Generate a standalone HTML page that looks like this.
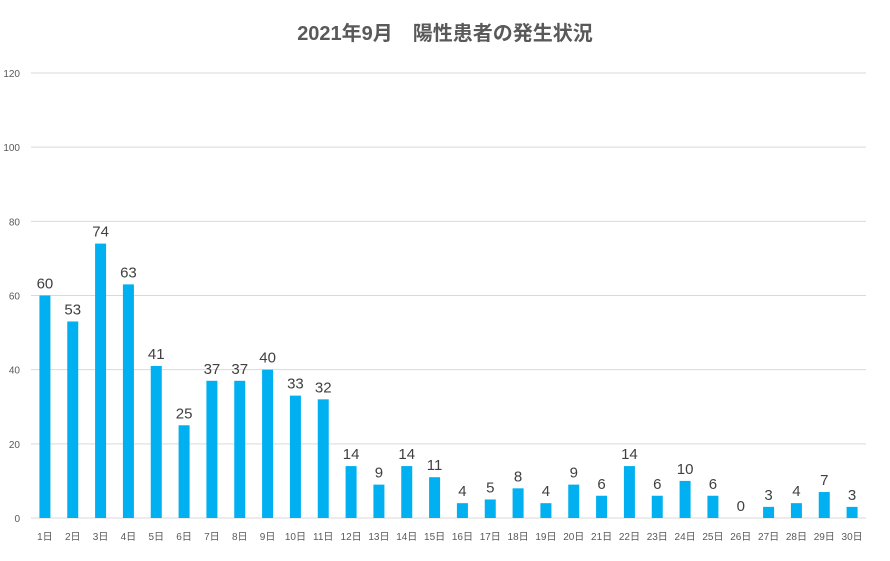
<!DOCTYPE html>
<html><head><meta charset="utf-8"><style>
body{margin:0;background:#fff;}
svg{display:block;font-family:"Liberation Sans","Noto Sans CJK JP",sans-serif;}
</style></head><body>
<svg id="chart" width="890" height="561">
<text x="445" y="40" text-anchor="middle" font-size="20" font-weight="bold" fill="#595959">2021年9月　陽性患者の発生状況</text>
<g id="grid"></g><g id="bars"></g><g id="labels"></g><g id="xlabels"></g>
</svg>
<script>
const categories=[];for(let i=1;i<=30;i++)categories.push(i+"日");
const values=[60,53,74,63,41,25,37,37,40,33,32,14,9,14,11,4,5,8,4,9,6,14,6,10,6,0,3,4,7,3];
const yTicks=[0,20,40,60,80,100,120];
const NS="http://www.w3.org/2000/svg";
const L=31,R=866,Y0=518,Y1=73,MAX=120;
const step=(R-L)/categories.length;
const y=v=>Y0-(v/MAX)*(Y0-Y1);
const x=i=>L+step*(i+0.5);
function mk(t,a,p){const e=document.createElementNS(NS,t);for(const k in a)e.setAttribute(k,a[k]);p.appendChild(e);return e;}
const g=document.getElementById('grid');
yTicks.forEach(t=>{
 const l=mk('line',{x1:L,x2:R,y1:y(t),y2:y(t),stroke:'#d9d9d9','stroke-width':1},g);
 
 
 const tx=mk('text',{x:20,y:y(t)+4,'text-anchor':'end','font-size':10,fill:'#595959'},g);
 tx.textContent=t;
 
 
});
const bg=document.getElementById('bars'),lg=document.getElementById('labels'),xg=document.getElementById('xlabels');
values.forEach((v,i)=>{
 const w=11;
 const r=mk('rect',{x:x(i)-w/2,y:y(v),width:w,height:Y0-y(v),fill:'#00b0f0'},bg);
 
 
 const t=mk('text',{x:x(i),y:y(v)-7,'text-anchor':'middle','font-size':15,fill:'#404040'},lg);
 t.textContent=v;
 
 
 const c=mk('text',{x:x(i),y:540,'text-anchor':'middle','font-size':10,fill:'#595959'},xg);
 c.textContent=categories[i];
 
 
});
</script>
</body></html>
